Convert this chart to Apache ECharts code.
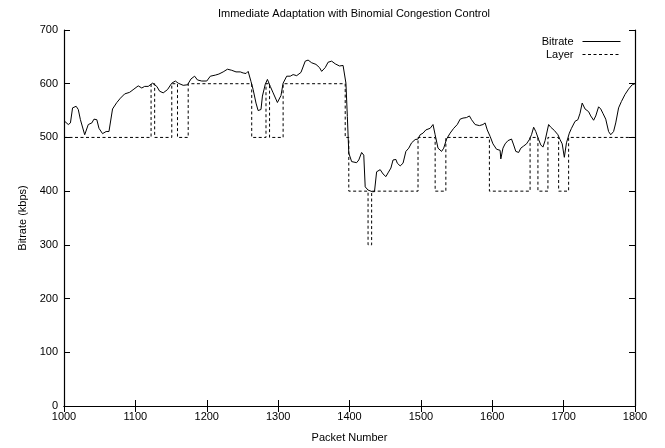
<!DOCTYPE html>
<html>
<head>
<meta charset="utf-8">
<script src="https://cdn.jsdelivr.net/npm/echarts@6/dist/echarts.min.js"></script>
<style>
html, body { margin: 0; padding: 0; background: #fff; }
#chart { width: 665px; height: 448px; }
</style>
</head>
<body>
<div id="chart"></div>
<script>
// bitrate trace
var packetIdx = [1001,1006,1009,1012,1017,1020,1023,1029,1034,1039,1042,1046,1049,1054,1059,1063,1068,1074,1079,1085,1092,1098,1104,1109,1113,1118,1124,1130,1134,1139,1145,1151,1156,1160,1167,1173,1178,1183,1187,1193,1200,1205,1212,1217,1223,1229,1235,1241,1247,1251,1255,1258,1262,1265,1269,1272,1276,1278,1282,1285,1289,1293,1299,1304,1307,1312,1317,1321,1326,1332,1338,1342,1347,1353,1358,1361,1366,1370,1375,1380,1386,1391,1393,1395,1397,1399,1403,1410,1413,1417,1420,1422,1426,1432,1435,1438,1443,1447,1451,1454,1458,1461,1465,1467,1471,1475,1479,1483,1487,1492,1496,1499,1503,1507,1513,1517,1520,1524,1529,1532,1536,1541,1546,1551,1555,1559,1564,1568,1571,1576,1582,1587,1590,1593,1597,1601,1606,1611,1612,1615,1618,1622,1627,1630,1633,1637,1640,1644,1648,1652,1655,1658,1661,1665,1668,1671,1674,1679,1682,1687,1692,1695,1698,1701,1704,1708,1711,1716,1720,1723,1726,1730,1735,1738,1742,1745,1749,1752,1755,1759,1763,1766,1770,1773,1777,1781,1786,1791,1796,1800];
var bitrate = [530,524,527,555,558,552,533,505,524,527,534,533,517,507,511,511,553,565,573,581,584,590,596,592,595,595,601,595,586,583,589,601,605,601,597,598,609,614,607,605,605,614,616,618,622,627,625,622,622,620,619,623,604,589,564,550,552,577,599,608,595,583,565,578,601,614,614,617,615,621,642,644,639,636,630,623,630,640,642,637,633,634,634,601,539,471,455,453,458,472,467,408,402,399,399,436,440,432,427,434,443,458,459,452,447,452,474,480,490,496,497,505,508,514,517,524,505,480,474,480,497,508,517,524,534,536,537,540,533,524,522,524,527,514,502,488,478,476,460,480,488,494,497,486,474,472,480,484,488,496,505,519,511,496,486,482,494,524,519,513,505,496,488,463,490,508,517,530,533,545,564,553,548,540,532,540,557,553,545,534,511,505,511,527,555,567,580,590,598,600];

// layer switches: from packet layerPackets[i] on, the layer is layerKbps[i]
var layerPackets = [1000,1122,1127,1151,1159,1174,1263,1283,1288,1307,1394,1399,1426,1431,1496,1520,1535,1596,1653,1664,1678,1693,1707,1800];
var layerKbps = [500,600,500,600,500,600,500,600,500,600,500,400,300,400,500,400,500,400,500,400,500,400,500,500];

var xTicks = [1000, 1800, 100];
var yTicks = [0, 700, 100];

function zip(a, b) {
    var out = [];
    for (var i = 0; i < a.length; i++) {
        out.push([a[i], b[i]]);
    }
    return out;
}

var font = 'Liberation Sans';
var myChart = echarts.init(document.getElementById('chart'));

var tickCommon = {
    axisLine: {show: true, lineStyle: {color: '#000', width: 1.2}},
    axisTick: {show: true, inside: true, length: 6, lineStyle: {color: '#000'}},
    splitLine: {show: false}
};

var option = {
    animation: false,
    backgroundColor: '#fff',
    title: {
        text: 'Immediate Adaptation with Binomial Congestion Control',
        left: 349,
        textAlign: 'center',
        top: 3,
        textStyle: {fontFamily: font, fontSize: 11, fontWeight: 'normal', color: '#000'}
    },
    legend: {
        orient: 'vertical',
        right: 39,
        top: 31,
        align: 'right',
        itemWidth: 38,
        itemHeight: 8,
        itemGap: 2,
        itemStyle: {opacity: 0},
        lineStyle: {width: 1},
        textStyle: {fontFamily: font, fontSize: 11, color: '#000', padding: [0, 4, 0, 0]},
        data: ['Bitrate', 'Layer']
    },
    grid: {left: 64, right: 30, top: 30, bottom: 41},
    xAxis: [
        Object.assign({
            type: 'value', min: xTicks[0], max: xTicks[1], interval: xTicks[2],
            name: 'Packet Number', nameLocation: 'middle', nameGap: 26,
            nameTextStyle: {fontFamily: font, fontSize: 11, color: '#000'},
            axisLabel: {fontFamily: font, fontSize: 11, color: '#000', margin: 5,
                formatter: function (v) { return String(v); }}
        }, tickCommon),
        Object.assign({
            type: 'value', position: 'top', min: xTicks[0], max: xTicks[1], interval: xTicks[2],
            axisLabel: {show: false}
        }, tickCommon)
    ],
    yAxis: [
        Object.assign({
            type: 'value', min: yTicks[0], max: yTicks[1], interval: yTicks[2],
            name: 'Bitrate (kbps)', nameLocation: 'middle', nameGap: 36,
            nameTextStyle: {fontFamily: font, fontSize: 11, color: '#000'},
            axisLabel: {fontFamily: font, fontSize: 11, color: '#000', margin: 6}
        }, tickCommon),
        Object.assign({
            type: 'value', position: 'right', min: yTicks[0], max: yTicks[1], interval: yTicks[2],
            axisLabel: {show: false}
        }, tickCommon)
    ],
    series: [
        {
            name: 'Bitrate',
            type: 'line',
            data: zip(packetIdx, bitrate),
            symbol: 'none',
            lineStyle: {color: '#000', width: 1},
            itemStyle: {color: '#000'}
        },
        {
            name: 'Layer',
            type: 'line',
            step: 'end',
            data: zip(layerPackets, layerKbps),
            symbol: 'none',
            lineStyle: {color: '#000', width: 1, type: [3, 2.5]},
            itemStyle: {color: '#000'}
        }
    ]
};

myChart.setOption(option);
</script>
</body>
</html>
